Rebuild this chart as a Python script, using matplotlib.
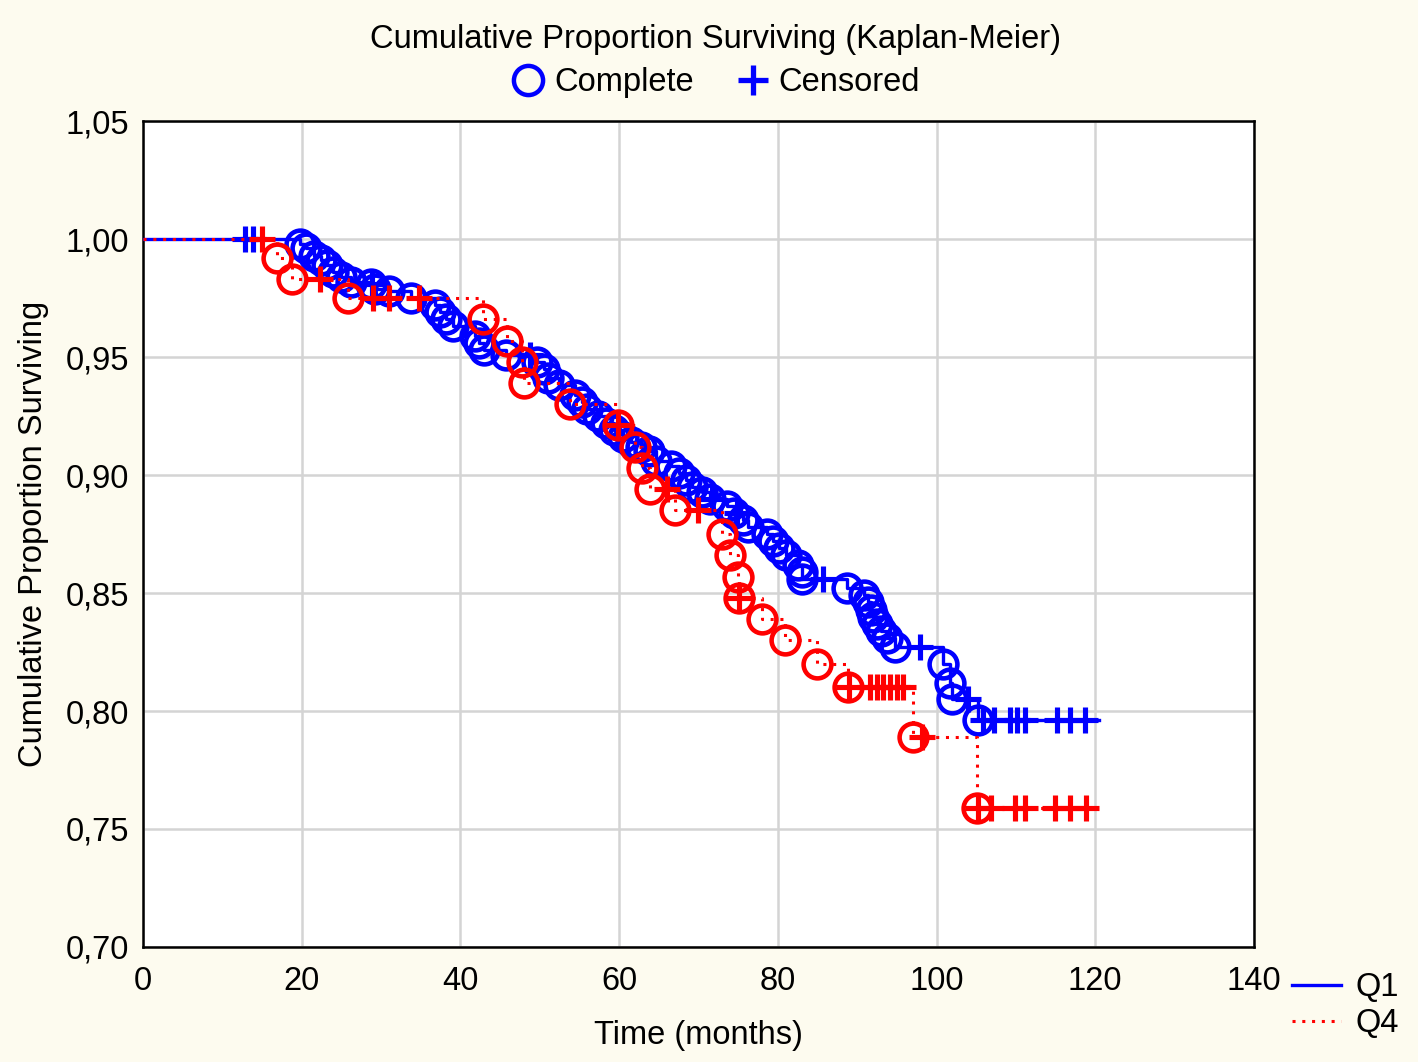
import numpy as np
import matplotlib
matplotlib.use("Agg")
import matplotlib.pyplot as plt
from matplotlib.lines import Line2D

# ---- data ----
q1_event_t = [19.8, 20.6, 21.5, 22.4, 23.2, 24.0, 25.0, 26.2, 28.7, 29.2, 31.0, 33.8,
              36.8, 37.4, 38.2, 39.1, 41.8, 42.4, 43.0, 45.8, 49.7, 50.5, 51.0, 52.4,
              54.5, 55.3, 56.0, 57.4, 58.3, 59.3, 60.5, 61.5, 62.8, 63.8, 64.6, 66.6,
              67.5, 68.4, 69.2, 70.4, 71.5, 73.6, 74.5, 75.6, 76.2, 78.6, 79.4, 80.2,
              81.0, 82.6, 83.0, 83.1, 88.7, 90.9, 91.4, 91.8, 92.0, 92.5, 93.0, 93.8,
              94.8, 100.8, 101.7, 102.0, 105.2]
q1_event_s = [0.998, 0.996, 0.993, 0.991, 0.989, 0.986, 0.984, 0.982, 0.981, 0.979, 0.978, 0.975,
              0.972, 0.969, 0.966, 0.963, 0.959, 0.956, 0.953, 0.951, 0.948, 0.945, 0.941, 0.938,
              0.934, 0.931, 0.928, 0.925, 0.922, 0.919, 0.916, 0.914, 0.912, 0.910, 0.906, 0.904,
              0.901, 0.898, 0.895, 0.893, 0.890, 0.887, 0.884, 0.881, 0.878, 0.875, 0.872, 0.869,
              0.866, 0.862, 0.859, 0.856, 0.852, 0.849, 0.846, 0.843, 0.840, 0.837, 0.834, 0.831,
              0.827, 0.820, 0.812, 0.805, 0.796]
q1_censor_t = [12.9, 13.9, 28.9, 48.8, 71.7, 74.8, 85.7, 97.9, 104.0, 105.8, 107.2,
               109.3, 110.1, 111.2, 115.2, 116.8, 118.7]
q1_end = 120.5

q4_event_t = [16.9, 18.8, 25.8, 42.8, 45.9, 47.8, 48.0, 53.8, 59.9, 62.0, 62.9, 63.9,
              67.0, 73.0, 74.0, 75.0, 75.1, 78.0, 80.9, 84.9, 88.8, 97.0, 105.1]
q4_event_s = [0.992, 0.983, 0.975, 0.966, 0.957, 0.948, 0.939, 0.930, 0.921, 0.912, 0.903, 0.894,
              0.885, 0.875, 0.866, 0.857, 0.848, 0.839, 0.830, 0.820, 0.810, 0.789, 0.759]
q4_censor_t = [15.0, 22.3, 29.0, 31.0, 34.8, 59.9, 66.0, 70.0, 75.1, 89.0, 91.6, 92.5,
               93.2, 94.1, 95.0, 95.8, 98.2, 105.2, 106.9, 109.9, 111.1, 114.9, 116.8, 118.9]
q4_end = 120.5

x_ticks = [0, 20, 40, 60, 80, 100, 120, 140]
y_ticks = [0.70, 0.75, 0.80, 0.85, 0.90, 0.95, 1.00, 1.05]

plt.rcParams['font.family'] = ['Liberation Sans', 'DejaVu Sans']
BG = '#fdfbef'
BLUE = '#0000ff'
RED = '#ff0000'
FS = 23.5
DOT = (0, (1, 2.2))

fig = plt.figure(figsize=(14.18, 10.62), dpi=100, facecolor=BG)
ax = fig.add_axes([0.1008, 0.1083, 0.7835, 0.7777])
ax.set_facecolor('white')


def step_series(ev_t, ev_s, end):
    t = [0.0] + list(ev_t) + [end]
    s = [1.0] + list(ev_s) + [ev_s[-1]]
    return np.array(t), np.array(s)


def surv_at(ev_t, ev_s, times):
    ev_t = np.asarray(ev_t)
    ev_s = np.asarray(ev_s)
    out = []
    for tt in times:
        idx = np.searchsorted(ev_t, tt, side='right') - 1
        out.append(1.0 if idx < 0 else ev_s[idx])
    return np.array(out)


ms_o = 20
ms_p = 19
mew = 3.3

for ev_t, ev_s, cen_t, end, col, ls, lw, z in [
        (q1_event_t, q1_event_s, q1_censor_t, q1_end, BLUE, '-', 2.4, 3),
        (q4_event_t, q4_event_s, q4_censor_t, q4_end, RED, DOT, 2.2, 4)]:
    t, s = step_series(ev_t, ev_s, end)
    ax.step(t, s, where='post', color=col, linestyle=ls, lw=lw, zorder=z)
    ax.plot(ev_t, ev_s, linestyle='none', marker='o', markersize=ms_o,
            markerfacecolor='none', markeredgecolor=col, markeredgewidth=mew, zorder=z)
    ax.plot(cen_t, surv_at(ev_t, ev_s, cen_t), linestyle='none', marker='+',
            markersize=ms_p, markeredgecolor=col, markeredgewidth=mew + 0.4, zorder=z)

ax.set_xlim(0, 140)
ax.set_ylim(0.70, 1.05)
ax.set_xticks(x_ticks)
ax.set_yticks(y_ticks)
ax.set_xticklabels([str(v) for v in x_ticks])
ax.set_yticklabels([f"{v:.2f}".replace('.', ',') for v in y_ticks])
ax.tick_params(length=0, labelsize=FS)
ax.tick_params(axis='x', pad=14)
ax.tick_params(axis='y', pad=10)
ax.grid(True, color='#d4d4d4', lw=1.8)
ax.set_axisbelow(True)
for sp in ax.spines.values():
    sp.set_linewidth(1.8)
    sp.set_color('black')

ax.set_xlabel('Time (months)', fontsize=FS, labelpad=16)
ax.set_ylabel('Cumulative Proportion Surviving', fontsize=FS, labelpad=12)

fig.text(0.5045, 0.963, 'Cumulative Proportion Surviving (Kaplan-Meier)',
         ha='center', va='center', fontsize=FS)

handles = [Line2D([], [], linestyle='none', marker='o', markersize=21,
                  markerfacecolor='none', markeredgecolor=BLUE, markeredgewidth=3.2),
           Line2D([], [], linestyle='none', marker='+', markersize=22,
                  markeredgecolor=BLUE, markeredgewidth=3.8)]
fig.legend(handles, ['Complete', 'Censored'], loc='center', bbox_to_anchor=(0.505, 0.922),
           ncol=2, frameon=False, fontsize=FS, handletextpad=0.3, columnspacing=1.3,
           handlelength=1.0)

h2 = [Line2D([], [], color=BLUE, lw=2.4, linestyle='-'),
      Line2D([], [], color=RED, lw=2.2, linestyle=DOT)]
fig.legend(h2, ['Q1', 'Q4'], loc='center', bbox_to_anchor=(0.949, 0.053),
           frameon=False, fontsize=FS, handlelength=1.5, handletextpad=0.45,
           labelspacing=0.15, borderpad=0.2)

fig.savefig('out.png', dpi=100, facecolor=BG)
